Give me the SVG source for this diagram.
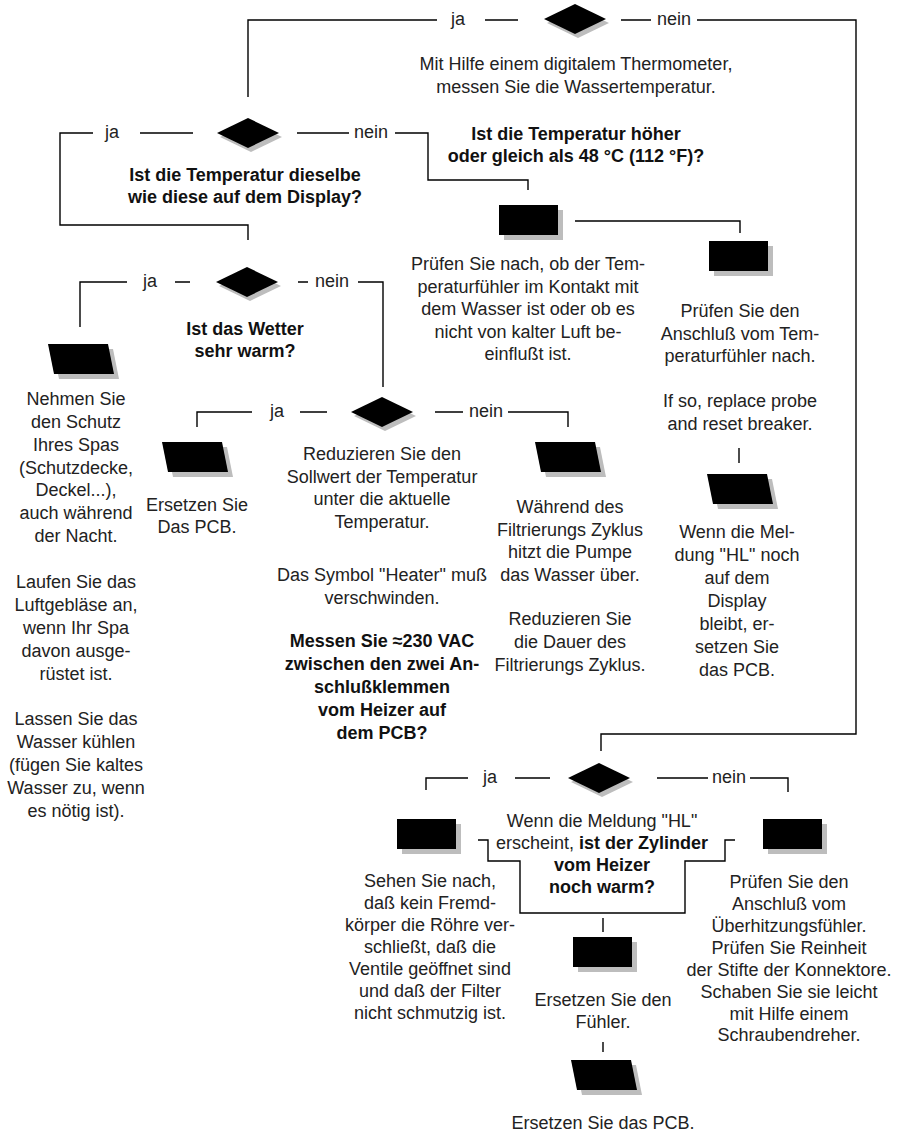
<svg xmlns="http://www.w3.org/2000/svg" xmlns:xlink="http://www.w3.org/1999/xlink" width="899" height="1135" viewBox="0 0 899 1135">
<style>
.bg{fill:#ffffff}
.t{font-family:"Liberation Sans",Arial,sans-serif;font-size:18px;fill:#222222;text-anchor:middle}
.b{font-weight:bold;fill:#111111}
.sh{fill:#bdbdbd}
.blk{fill:#000000}
.ln{fill:none;stroke:#000000;stroke-width:1.4}
</style>
<defs>
<polygon id="dia" points="0,-15 31,0 0,15 -31,0"/>
<rect id="box" x="0" y="0" width="59" height="30"/>
<polygon id="para" points="0,0 60,0 66,30 6,30"/>
</defs>
<rect class="bg" x="0" y="0" width="899" height="1135"/>

<g id="connectors">
<path class="ln" d="M248,97 V20 H437 M485,20 H518 M621,20 H651 M697,20 H856 V734 H601 V751"/>
<path class="ln" d="M93,133 H60 V225 H248 V240 M140,133 H193 M297,133 H349 M395,133 H428 V180 H528 V190"/>
<path class="ln" d="M575,221 H740 V233"/>
<path class="ln" d="M127,282 H80 V327 M175,282 H190 M298,282 H308 M358,282 H383 V387"/>
<path class="ln" d="M252,412 H197 V427 M300,412 H327 M435,412 H463 M508,412 H568 V427"/>
<path class="ln" d="M739,448 V463"/>
<path class="ln" d="M468,778 H426 V790 M515,778 H550 M657,778 H708 M750,778 H788 V792"/>
<path class="ln" d="M478,840 H488 V861 H520 V913 H685 V861 H725 V840 H735"/>
<path class="ln" d="M603,918 V932 M603,1042 V1052"/>
<text class="t" x="458" y="25">ja</text>
<text class="t" x="674" y="25">nein</text>
<text class="t" x="112" y="138">ja</text>
<text class="t" x="371" y="138">nein</text>
<text class="t" x="150" y="287">ja</text>
<text class="t" x="332" y="287">nein</text>
<text class="t" x="277" y="417">ja</text>
<text class="t" x="486" y="417">nein</text>
<text class="t" x="490" y="783">ja</text>
<text class="t" x="729" y="783">nein</text>
</g>

<g id="d-measure">
<use xlink:href="#dia" class="sh" x="578" y="23"/>
<use xlink:href="#dia" class="blk" x="575" y="19"/>
<text class="t" x="576" y="70">Mit Hilfe einem digitalem Thermometer,</text>
<text class="t" x="576" y="93">messen Sie die Wassertemperatur.</text>
</g>

<g id="d-display">
<use xlink:href="#dia" class="sh" x="251" y="137"/>
<use xlink:href="#dia" class="blk" x="248" y="133"/>
<text class="t b" x="245" y="181">Ist die Temperatur dieselbe</text>
<text class="t b" x="245" y="203">wie diese auf dem Display?</text>
</g>

<g id="q-48">
<text class="t b" x="576" y="140">Ist die Temperatur höher</text>
<text class="t b" x="576" y="162">oder gleich als 48 °C (112 °F)?</text>
</g>

<g id="b-contact">
<use xlink:href="#box" class="sh" x="504" y="210"/>
<use xlink:href="#box" class="blk" x="499" y="205"/>
<text class="t" x="528" y="270">Prüfen Sie nach, ob der Tem-</text>
<text class="t" x="528" y="293">peraturfühler im Kontakt mit</text>
<text class="t" x="528" y="315">dem Wasser ist oder ob es</text>
<text class="t" x="528" y="338">nicht von kalter Luft be-</text>
<text class="t" x="528" y="360">einflußt ist.</text>
</g>

<g id="b-connection">
<use xlink:href="#box" class="sh" x="714" y="246"/>
<use xlink:href="#box" class="blk" x="709" y="241"/>
<text class="t" x="740" y="317">Prüfen Sie den</text>
<text class="t" x="740" y="340">Anschluß vom Tem-</text>
<text class="t" x="740" y="362">peraturfühler nach.</text>
<text class="t" x="740" y="407">If so, replace probe</text>
<text class="t" x="740" y="430">and reset breaker.</text>
</g>

<g id="p-hl">
<use xlink:href="#para" class="sh" x="712" y="479"/>
<use xlink:href="#para" class="blk" x="707" y="474"/>
<text class="t" x="737" y="538">Wenn die Mel-</text>
<text class="t" x="737" y="561">dung "HL" noch</text>
<text class="t" x="737" y="584">auf dem</text>
<text class="t" x="737" y="607">Display</text>
<text class="t" x="737" y="630">bleibt, er-</text>
<text class="t" x="737" y="653">setzen Sie</text>
<text class="t" x="737" y="676">das PCB.</text>
</g>

<g id="d-weather">
<use xlink:href="#dia" class="sh" x="250" y="286"/>
<use xlink:href="#dia" class="blk" x="247" y="282"/>
<text class="t b" x="245" y="335">Ist das Wetter</text>
<text class="t b" x="245" y="357">sehr warm?</text>
</g>

<g id="p-cover">
<use xlink:href="#para" class="sh" x="53" y="349"/>
<use xlink:href="#para" class="blk" x="48" y="344"/>
<text class="t" x="76" y="405">Nehmen Sie</text>
<text class="t" x="76" y="428">den Schutz</text>
<text class="t" x="76" y="451">Ihres Spas</text>
<text class="t" x="76" y="474">(Schutzdecke,</text>
<text class="t" x="76" y="496">Deckel...),</text>
<text class="t" x="76" y="519">auch während</text>
<text class="t" x="76" y="542">der Nacht.</text>
<text class="t" x="76" y="588">Laufen Sie das</text>
<text class="t" x="76" y="611">Luftgebläse an,</text>
<text class="t" x="76" y="634">wenn Ihr Spa</text>
<text class="t" x="76" y="657">davon ausge-</text>
<text class="t" x="76" y="680">rüstet ist.</text>
<text class="t" x="76" y="725">Lassen Sie das</text>
<text class="t" x="76" y="748">Wasser kühlen</text>
<text class="t" x="76" y="771">(fügen Sie kaltes</text>
<text class="t" x="76" y="794">Wasser zu, wenn</text>
<text class="t" x="76" y="817">es nötig ist).</text>
</g>

<g id="d-heater">
<use xlink:href="#dia" class="sh" x="385" y="416"/>
<use xlink:href="#dia" class="blk" x="382" y="412"/>
<text class="t" x="382" y="460">Reduzieren Sie den</text>
<text class="t" x="382" y="483">Sollwert der Temperatur</text>
<text class="t" x="382" y="505">unter die aktuelle</text>
<text class="t" x="382" y="528">Temperatur.</text>
<text class="t" x="382" y="581">Das Symbol "Heater" muß</text>
<text class="t" x="382" y="604">verschwinden.</text>
<text class="t b" x="382" y="647">Messen Sie ≈230 VAC</text>
<text class="t b" x="382" y="670">zwischen den zwei An-</text>
<text class="t b" x="382" y="693">schlußklemmen</text>
<text class="t b" x="382" y="716">vom Heizer auf</text>
<text class="t b" x="382" y="739">dem PCB?</text>
</g>

<g id="p-pcb1">
<use xlink:href="#para" class="sh" x="167" y="447"/>
<use xlink:href="#para" class="blk" x="162" y="442"/>
<text class="t" x="197" y="511">Ersetzen Sie</text>
<text class="t" x="197" y="533">Das PCB.</text>
</g>

<g id="p-filter">
<use xlink:href="#para" class="sh" x="540" y="447"/>
<use xlink:href="#para" class="blk" x="535" y="442"/>
<text class="t" x="570" y="513">Während des</text>
<text class="t" x="570" y="536">Filtrierungs Zyklus</text>
<text class="t" x="570" y="558">hitzt die Pumpe</text>
<text class="t" x="570" y="581">das Wasser über.</text>
<text class="t" x="570" y="625">Reduzieren Sie</text>
<text class="t" x="570" y="648">die Dauer des</text>
<text class="t" x="570" y="671">Filtrierungs Zyklus.</text>
</g>

<g id="d-cylinder">
<use xlink:href="#dia" class="sh" x="602" y="782"/>
<use xlink:href="#dia" class="blk" x="599" y="778"/>
<text class="t" x="602" y="827">Wenn die Meldung "HL"</text>
<text class="t" x="602" y="849">erscheint, <tspan class="b">ist der Zylinder</tspan></text>
<text class="t b" x="602" y="871">vom Heizer</text>
<text class="t b" x="602" y="893">noch warm?</text>
</g>

<g id="b-flow">
<use xlink:href="#box" class="sh" x="402" y="824"/>
<use xlink:href="#box" class="blk" x="397" y="819"/>
<text class="t" x="430" y="887">Sehen Sie nach,</text>
<text class="t" x="430" y="909">daß kein Fremd-</text>
<text class="t" x="430" y="931">körper die Röhre ver-</text>
<text class="t" x="430" y="953">schließt, daß die</text>
<text class="t" x="430" y="975">Ventile geöffnet sind</text>
<text class="t" x="430" y="997">und daß der Filter</text>
<text class="t" x="430" y="1019">nicht schmutzig ist.</text>
</g>

<g id="b-overheat">
<use xlink:href="#box" class="sh" x="768" y="824"/>
<use xlink:href="#box" class="blk" x="763" y="819"/>
<text class="t" x="789" y="888">Prüfen Sie den</text>
<text class="t" x="789" y="910">Anschluß vom</text>
<text class="t" x="789" y="932">Überhitzungsfühler.</text>
<text class="t" x="789" y="954">Prüfen Sie Reinheit</text>
<text class="t" x="789" y="976">der Stifte der Konnektore.</text>
<text class="t" x="789" y="998">Schaben Sie sie leicht</text>
<text class="t" x="789" y="1020">mit Hilfe einem</text>
<text class="t" x="789" y="1041">Schraubendreher.</text>
</g>

<g id="b-sensor">
<use xlink:href="#box" class="sh" x="578" y="942"/>
<use xlink:href="#box" class="blk" x="573" y="937"/>
<text class="t" x="603" y="1006">Ersetzen Sie den</text>
<text class="t" x="603" y="1028">Fühler.</text>
</g>

<g id="p-pcb2">
<use xlink:href="#para" class="sh" x="576" y="1065"/>
<use xlink:href="#para" class="blk" x="571" y="1060"/>
<text class="t" x="603" y="1129">Ersetzen Sie das PCB.</text>
</g>
</svg>
